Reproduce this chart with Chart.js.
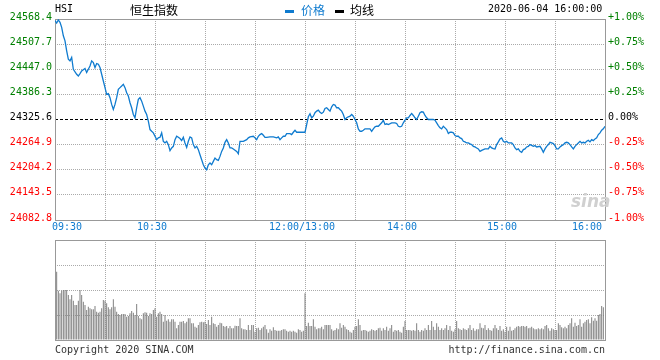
<!DOCTYPE html>
<html><head><meta charset="utf-8">
<script src="https://cdn.jsdelivr.net/npm/chart.js@4.4.1/dist/chart.umd.min.js"></script>
<style>
html,body{margin:0;padding:0;background:#fff;}
#wrap{position:relative;width:660px;height:360px;overflow:hidden;font-family:"DejaVu Sans Mono",monospace;font-size:10px;}
canvas{position:absolute;left:0;}
.t{position:absolute;white-space:nowrap;line-height:12px;}
.cjk{font-family:"Noto Sans CJK SC",sans-serif;font-size:12px;line-height:14px;}
</style></head>
<body><div id="wrap">
<canvas id="c1" width="660" height="236" style="top:0"></canvas>
<canvas id="c2" width="660" height="124" style="top:236px"></canvas>
<div class="t" style="left:55px;top:3px;color:#000">HSI</div>
<div class="t cjk" style="left:130px;top:3px;color:#000">恒生指数</div>
<div style="position:absolute;left:285px;top:10px;width:9px;height:3px;background:#0f7bcf"></div>
<div class="t cjk" style="left:301px;top:3px;color:#0f7bcf">价格</div>
<div style="position:absolute;left:335px;top:10px;width:9px;height:3px;background:#000"></div>
<div class="t cjk" style="left:350px;top:3px;color:#000">均线</div>
<div class="t" style="left:488px;top:3px;color:#000">2020-06-04 16:00:00</div>
<div class="t" style="left:571px;top:192px;font-family:'DejaVu Sans',sans-serif;font-size:17px;line-height:18px;font-style:italic;font-weight:bold;color:#d0d0d0">sina</div>
<div class="t" style="left:55px;top:344px;color:#333">Copyright 2020 SINA.COM</div>
<div class="t" style="right:55px;top:344px;color:#333">http://finance.sina.com.cn</div>
</div>
<script>
const prevClose = 24325.6;
const priceTicks = [24082.8,24143.5,24204.2,24264.9,24325.6,24386.3,24447.0,24507.7,24568.4];
const pctTicks = [-1,-0.75,-0.5,-0.25,0,0.25,0.5,0.75,1];
const gridMinutes = [0,30,60,90,120,150,180,210,240,270,300,330];
const labelMinutes = [0,60,150,210,270,330];
const timeLabels = ['09:30','10:30','12:00/13:00','14:00','15:00','16:00'];
const volTicks = [0,25,50,75,100];

const priceMinutes = [
0,1,2,3,4,5,6,7,8,9,
10,11,13,14,15,16,18,19,20,21,
22,23,24,25,26,27,28,29,30,31,
32,33,34,35,36,37,38,39,40,41,
42,43,44,45,46,47,48,49,50,51,
52,53,54,55,56,57,58,59,60,61,
62,63,64,65,66,67,68,69,70,71,
72,73,74,75,76,77,78,79,80,81,
82,83,84,85,86,87,88,89,90,91,
92,93,94,95,96,97,98,99,100,101,
102,103,104,105,106,107,109,110,111,112,
113,115,116,117,119,120,121,122,123,124,
125,126,127,129,131,133,134,135,136,137,
138,139,141,142,143,144,145,147,149,150,
151,152,153,154,155,156,157,158,159,160,
161,162,163,164,165,166,167,168,169,170,
171,172,173,174,175,176,177,178,179,180,
181,182,183,184,185,186,187,189,190,191,
192,193,194,195,196,197,198,199,200,202,
204,205,206,207,208,209,210,211,212,213,
214,215,216,217,218,219,220,221,222,223,
224,226,227,228,229,230,231,232,233,234,
235,236,237,238,239,240,241,242,243,244,
245,246,247,248,249,250,251,252,253,254,
255,256,257,258,259,260,261,262,263,264,
265,266,267,268,269,270,271,272,273,274,
275,276,277,278,279,280,281,282,283,284,
285,286,287,288,289,291,292,293,294,295,
296,297,298,299,300,301,302,303,304,305,
306,307,308,309,310,311,312,313,314,315,
316,317,318,319,320,321,322,323,324,325,
326,327,328,329,330];

const priceValues = [
24564.3,24558.7,24566.0,24560.4,24548.2,24527.9,24515.7,24491.4,24471.3,24467.2,
24475.4,24447.0,24434.9,24430.7,24436.5,24442.9,24448.7,24439.0,24447.0,24455.0,
24467.2,24463.3,24451.1,24460.8,24459.1,24451.1,24434.9,24418.6,24402.6,24386.3,
24388.0,24378.3,24362.0,24349.9,24362.0,24378.3,24398.4,24402.6,24406.5,24410.6,
24402.6,24390.4,24382.2,24366.1,24354.0,24337.7,24329.7,24354.0,24374.2,24378.3,
24370.0,24357.9,24345.8,24337.7,24321.5,24301.3,24297.2,24293.3,24285.1,24277.0,
24281.2,24282.6,24293.3,24272.9,24269.0,24272.9,24264.9,24250.3,24256.9,24260.8,
24277.0,24285.1,24282.6,24279.5,24274.6,24282.6,24269.0,24258.3,24272.9,24283.6,
24281.2,24264.9,24256.9,24260.8,24252.8,24240.6,24228.5,24216.3,24208.3,24204.2,
24216.3,24220.5,24216.3,24224.4,24232.6,24228.5,24226.8,24236.5,24248.6,24256.9,
24270.5,24277.0,24269.0,24256.9,24256.9,24254.5,24248.6,24243.0,24272.9,24272.9,
24272.9,24277.0,24281.2,24283.6,24285.1,24281.2,24277.0,24285.1,24289.2,24291.6,
24287.5,24282.6,24282.6,24283.6,24283.6,24281.2,24283.6,24277.0,24281.2,24285.1,
24285.1,24291.6,24291.6,24289.2,24294.8,24299.6,24294.8,24294.8,24294.8,24294.8,
24313.0,24332.2,24339.4,24329.7,24333.6,24341.9,24345.8,24348.2,24343.3,24340.2,
24343.3,24352.3,24354.0,24349.9,24345.8,24356.4,24362.0,24360.3,24354.0,24354.0,
24349.9,24345.8,24337.7,24325.6,24329.7,24332.2,24333.6,24337.7,24333.6,24325.6,
24317.6,24303.0,24297.2,24297.2,24299.6,24303.0,24303.0,24303.0,24297.2,24303.0,
24307.9,24309.3,24309.3,24313.5,24317.6,24323.9,24313.5,24315.2,24313.5,24317.6,
24317.6,24315.9,24309.3,24307.9,24309.3,24317.6,24323.9,24329.7,24329.7,24335.3,
24340.2,24335.3,24329.7,24325.6,24333.6,24341.9,24344.3,24343.3,24335.3,24329.7,
24325.6,24325.6,24325.6,24323.9,24317.6,24311.0,24305.4,24303.0,24309.3,24305.4,
24301.3,24291.6,24294.8,24294.8,24293.3,24286.8,24285.1,24285.1,24281.2,24279.5,
24272.9,24271.5,24269.0,24269.0,24266.6,24264.9,24260.8,24259.3,24256.9,24254.5,
24248.6,24251.1,24252.8,24254.5,24254.5,24254.5,24260.8,24256.9,24255.2,24254.5,
24264.9,24271.5,24278.7,24281.2,24272.9,24270.5,24272.9,24269.0,24269.0,24269.0,
24264.9,24256.9,24252.8,24254.5,24248.6,24246.2,24252.8,24254.5,24259.3,24260.8,
24264.9,24263.2,24260.8,24262.5,24259.3,24260.8,24254.5,24246.2,24254.5,24260.8,
24264.9,24270.5,24269.0,24267.3,24262.5,24254.5,24254.5,24259.3,24262.5,24264.9,
24269.0,24270.5,24269.0,24264.9,24259.3,24254.5,24260.8,24264.9,24269.0,24272.9,
24269.0,24270.5,24269.0,24272.9,24275.3,24271.5,24277.0,24274.6,24278.7,24281.2,
24289.2,24293.3,24299.6,24303.0,24309.3];

// volume per minute, first value belongs to minute 1 (09:31)
const volFirstMinute = 1;
const volumes = [
68.3,49.3,46.7,49.3,50,50,50,45,40.7,45,
39.3,35,35,39.3,50,45,38.3,35,30,33.3,
31.7,30.7,30.7,34,28.3,27.3,28.3,31.7,40,39.3,
36.7,32.7,30.7,32.7,40.7,33.3,28.3,26,25,26,
26,26,23.3,24,26.7,29,27.3,25,36,24,
21.7,20.7,26.7,27.7,27.3,24,26.7,26,30,31.7,
23.3,26.7,28.3,26,18.3,25,19.3,20.7,18.3,20.7,
20.7,18.3,11.7,15,18.3,18.3,19,16.7,18.3,21.7,
21.7,16.7,16.7,13.3,12.3,15,17.7,18.3,17.7,18.3,
16,20,15,23.3,16.7,16,13.3,15,17.3,16.7,
14,13.3,14,11.7,14,11.7,11.7,14.3,14,14,
21.7,11.7,10.7,10.7,10,15,10,15,15,8.3,
11.7,12.3,10,11.7,13.3,15,10.7,7.3,10.7,9.3,
12.7,10,9.3,9.3,9.3,10,10.7,10.7,9.3,8.3,
9.3,8.3,9.3,8.3,7.3,10.7,10,8.3,9.3,46.7,
14,17.3,14,14,20.7,13.3,10.7,11.7,11.7,13.3,
10.7,15,15,15,15,10.7,9.3,10,11.7,10.7,
16.7,12.3,15,13.3,10.7,10,8.3,7.3,10,13.3,
14,20.7,15,9.3,10,10,9.3,8.3,9.3,10.7,
10,9.3,10,11.7,12.3,9.3,11.7,10,13.3,9.3,
11.7,15,8.3,10,9.3,10,8.3,7.3,13.3,19,
10,10,10,9.3,10,9.3,16.7,10,8.3,10,
9.3,11.7,10,15,10,19,13.3,10,16.7,13.3,
10,11.7,10,11.7,15,10,14,9.3,8.3,10.7,
19,11.7,10.7,10,11.7,10.7,10,11.7,15,10,
11.7,9.3,10.7,10.7,16.7,12.3,11.7,15,10,11.7,
10,9.3,11.7,15,11.7,10,14,9.3,10.7,8.3,
13.3,9.3,13.3,9.3,10,11.7,13.3,14,13.3,14,
14,13.3,14,11.7,12.3,13.3,11.7,10.7,10.7,11.7,
10.7,11.7,10.7,14,15,11.7,9.3,11.7,10.7,10,
10,16.7,15,12.7,11.7,13.3,11.7,15,16.7,21.7,
13.3,17.3,14,15,20.7,13.3,16.7,18.3,20,20.7,
16.7,22.7,19.3,21.7,19.3,25,26,34,32.7];

const LINE_BLUE = '#0f7bcf';
const GREEN = '#008000', RED = '#ff0000';
const GRID = '#aaaaaa', FRAME = '#999999';
const MONO = {family: 'DejaVu Sans Mono', size: 10};

const framePlugin = {
  id: 'frame',
  beforeDatasetsDraw(chart) {
    const {ctx, chartArea: a} = chart;
    ctx.save();
    ctx.strokeStyle = FRAME; ctx.lineWidth = 1; ctx.setLineDash([]);
    ctx.strokeRect(a.left + 0.5, a.top + 0.5, a.right - a.left, a.bottom - a.top);
    ctx.restore();
  }
};

function xScaleBase(showLabels) {
  return {
    type: 'linear', min: 0, max: 330, offset: false,
    afterBuildTicks: s => { s.ticks = gridMinutes.map(v => ({value: v})); },
    grid: { color: GRID, drawTicks: false, lineWidth: 1, offset: false },
    border: { display: false, dash: [1, 1] },
    ticks: showLabels ? {
      autoSkip: false, maxRotation: 0, minRotation: 0, align: 'inner', labelOffset: -3, padding: 1,
      color: LINE_BLUE, font: MONO,
      callback: v => { const i = labelMinutes.indexOf(v); return i >= 0 ? timeLabels[i] : ''; }
    } : { display: false },
    afterFit: s => { s.height = showLabels ? 16 : 20; }
  };
}

const priceColor = v => v > prevClose ? GREEN : (v < prevClose ? RED : '#000');
const pctColor = v => v > 0 ? GREEN : (v < 0 ? RED : '#000');

new Chart(document.getElementById('c1'), {
  type: 'line',
  data: { datasets: [{
    label: '价格',
    data: priceMinutes.map((m, i) => ({x: m, y: priceValues[i]})),
    borderColor: LINE_BLUE, borderWidth: 1.3, pointRadius: 0, tension: 0, fill: false,
    yAxisID: 'y', xAxisID: 'x'
  }]},
  options: {
    responsive: false, animation: false,
    layout: { padding: { top: 19, left: 0, right: 0, bottom: 0 } },
    plugins: { legend: { display: false }, tooltip: { enabled: false } },
    scales: {
      x: xScaleBase(true),
      y: {
        position: 'left', min: priceTicks[0], max: priceTicks[priceTicks.length - 1],
        afterBuildTicks: s => { s.ticks = priceTicks.map(v => ({value: v})); },
        grid: { drawTicks: false, color: c => (c.tick && c.tick.value === prevClose) ? '#000' : GRID },
        border: { display: false, dash: c => (c.tick && c.tick.value === prevClose) ? [3, 2] : [1, 1] },
        ticks: { padding: 3, labelOffset: -2, font: MONO,
          color: c => priceColor(c.tick.value),
          callback: v => v.toFixed(1) },
        afterFit: s => { s.width = 55; }
      },
      yp: {
        position: 'right', min: -1, max: 1,
        afterBuildTicks: s => { s.ticks = pctTicks.map(v => ({value: v})); },
        grid: { drawOnChartArea: false, drawTicks: false },
        border: { display: false },
        ticks: { padding: 3, labelOffset: -2, font: MONO,
          color: c => pctColor(c.tick.value),
          callback: v => (v > 0 ? '+' : '') + v.toFixed(2) + '%' },
        afterFit: s => { s.width = 55; }
      }
    }
  },
  plugins: [framePlugin]
});

new Chart(document.getElementById('c2'), {
  type: 'bar',
  data: { datasets: [{
    label: '成交量',
    data: volumes.map((v, i) => ({x: volFirstMinute + i, y: v})),
    backgroundColor: '#808080', borderWidth: 0, barThickness: 1, inflateAmount: 0
  }]},
  options: {
    responsive: false, animation: false,
    layout: { padding: { top: 4, left: 0, right: 55, bottom: 0 } },
    plugins: { legend: { display: false }, tooltip: { enabled: false } },
    scales: {
      x: xScaleBase(false),
      y: {
        position: 'left', min: 0, max: 100,
        afterBuildTicks: s => { s.ticks = volTicks.map(v => ({value: v})); },
        grid: { drawTicks: false, color: GRID },
        border: { display: false, dash: [1, 1] },
        ticks: { display: false },
        afterFit: s => { s.width = 55; }
      }
    }
  },
  plugins: [framePlugin]
});
</script>
</body></html>
